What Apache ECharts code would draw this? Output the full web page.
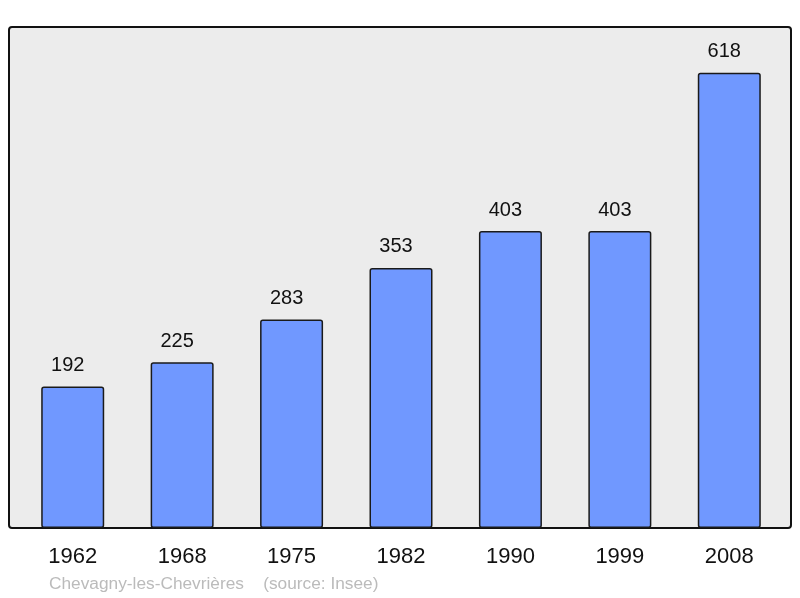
<!DOCTYPE html>
<html>
<head>
<meta charset="utf-8">
<script src="https://cdn.jsdelivr.net/npm/echarts@6/dist/echarts.min.js"></script>
<style>
  html, body { margin: 0; padding: 0; background: #fff; }
  #chart { width: 800px; height: 598px; }
</style>
</head>
<body>
<div id="chart"></div>
<script>
const years = ['1962', '1968', '1975', '1982', '1990', '1999', '2008'];
const population = [192, 225, 283, 353, 403, 403, 618];
const footer = 'Chevagny-les-Chevrières    (source: Insee)';

const chart = echarts.init(document.getElementById('chart'));

chart.setOption({
  animation: false,
  backgroundColor: '#fff',
  textStyle: { fontFamily: 'Liberation Sans, Arial, sans-serif' },
  graphic: [
    {
      type: 'rect',
      z: -10,
      shape: { x: 9, y: 27, width: 782, height: 501, r: 3 },
      style: { fill: '#ececec', stroke: '#111', lineWidth: 2 },
    },
    {
      type: 'text',
      left: 49,
      top: 576,
      style: {
        text: footer,
        fill: '#bbbbbb',
        font: '17.3px Liberation Sans, Arial, sans-serif',
      },
    },
  ],
  grid: {
    left: 18,
    width: 766,
    top: 27,
    bottom: 70,
    containLabel: false,
  },
  xAxis: {
    type: 'category',
    data: years,
    axisLine: { show: false },
    axisTick: { show: false },
    axisLabel: {
      color: '#111',
      fontSize: 22,
      margin: 18,
    },
  },
  yAxis: {
    type: 'value',
    min: 0,
    max: 680,
    show: false,
    splitLine: { show: false },
  },
  series: [
    {
      type: 'bar',
      data: population,
      barWidth: 63,
      itemStyle: {
        color: '#7098ff',
        borderColor: '#1a1a1a',
        borderWidth: 1.5,
        borderRadius: 2,
      },
      label: {
        show: true,
        position: 'top',
        distance: 11,
        offset: [-5, 0],
        color: '#111',
        fontSize: 20,
      },
    },
  ],
});
</script>
</body>
</html>
